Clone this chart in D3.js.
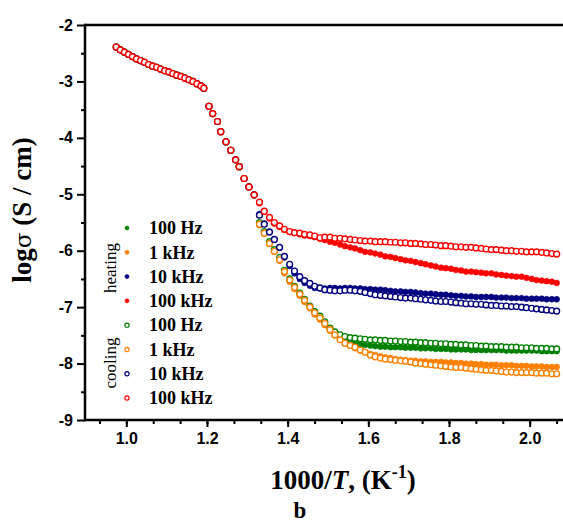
<!DOCTYPE html>
<html>
<head>
<meta charset="utf-8">
<script src="https://cdn.jsdelivr.net/npm/d3@7"></script>
<style>
  body { margin: 0; background: #fff; }
  svg { display: block; }
  .axis-title { font-family: "Liberation Serif", "Times New Roman", serif; font-weight: bold; fill: #000; }
  .legend-text { font-family: "Liberation Serif", "Times New Roman", serif; font-weight: bold; font-size: 18px; fill: #000; }
  .group-text { font-family: "Liberation Serif", "Times New Roman", serif; font-size: 17px; fill: #000; }
</style>
</head>
<body>
<div class="chart"></div>
<script>
// high temperature branch, all frequencies sit on top of each other here
var upperX = [0.975, 0.985, 0.995, 1.005, 1.015, 1.025, 1.035, 1.045, 1.055, 1.065, 1.075, 1.085,
  1.095, 1.105, 1.115, 1.125, 1.135, 1.145, 1.155, 1.165, 1.175, 1.185, 1.192,
  1.205, 1.214, 1.226, 1.234, 1.247, 1.259, 1.271, 1.280, 1.292, 1.304, 1.317];
var upperY = [-2.39, -2.44, -2.48, -2.52, -2.56, -2.60, -2.63, -2.66, -2.70, -2.73, -2.75, -2.78,
  -2.81, -2.83, -2.86, -2.89, -2.91, -2.94, -2.97, -3.00, -3.04, -3.08, -3.12,
  -3.44, -3.57, -3.71, -3.89, -4.07, -4.22, -4.39, -4.51, -4.72, -4.87, -5.01];

// low temperature part, where the frequencies split
var tailX = [1.330, 1.342, 1.355, 1.367, 1.380, 1.392, 1.405, 1.417, 1.430, 1.442,
  1.455, 1.467, 1.480, 1.492, 1.505, 1.517, 1.530, 1.542, 1.555, 1.567,
  1.580, 1.592, 1.605, 1.617, 1.630, 1.642, 1.655, 1.667, 1.680, 1.692,
  1.705, 1.717, 1.730, 1.742, 1.755, 1.767, 1.780, 1.792, 1.805, 1.817,
  1.830, 1.842, 1.855, 1.867, 1.880, 1.892, 1.905, 1.917, 1.930, 1.942,
  1.955, 1.967, 1.980, 1.992, 2.005, 2.017, 2.030, 2.042, 2.055, 2.067];

var heat100Hz = [-5.52, -5.68, -5.86, -6.00, -6.15, -6.38, -6.53, -6.66, -6.78, -6.89,
  -7.00, -7.10, -7.19, -7.29, -7.39, -7.47, -7.53, -7.58, -7.61, -7.64,
  -7.66, -7.67, -7.68, -7.69, -7.70, -7.70, -7.71, -7.71, -7.71, -7.72,
  -7.72, -7.72, -7.73, -7.73, -7.73, -7.74, -7.74, -7.74, -7.75, -7.75,
  -7.75, -7.75, -7.76, -7.76, -7.76, -7.76, -7.76, -7.76, -7.76, -7.77,
  -7.77, -7.77, -7.77, -7.77, -7.77, -7.77, -7.78, -7.78, -7.78, -7.78];
var heat1kHz = [-5.55, -5.70, -5.88, -6.02, -6.18, -6.40, -6.55, -6.68, -6.80, -6.91,
  -7.02, -7.13, -7.22, -7.32, -7.42, -7.50, -7.57, -7.63, -7.68, -7.73,
  -7.77, -7.80, -7.83, -7.85, -7.87, -7.89, -7.90, -7.92, -7.93, -7.94,
  -7.95, -7.95, -7.96, -7.96, -7.97, -7.97, -7.97, -7.98, -7.98, -7.99,
  -7.99, -8.00, -8.00, -8.01, -8.01, -8.02, -8.02, -8.02, -8.03, -8.03,
  -8.03, -8.04, -8.04, -8.04, -8.05, -8.05, -8.05, -8.06, -8.06, -8.06];
var heat10kHz = [-5.35, -5.52, -5.66, -5.80, -5.95, -6.12, -6.27, -6.40, -6.50, -6.57,
  -6.62, -6.66, -6.67, -6.67, -6.66, -6.66, -6.67, -6.66, -6.66, -6.67,
  -6.67, -6.68, -6.68, -6.69, -6.69, -6.70, -6.71, -6.72, -6.72, -6.73,
  -6.73, -6.74, -6.75, -6.76, -6.76, -6.77, -6.78, -6.78, -6.79, -6.80,
  -6.80, -6.81, -6.81, -6.82, -6.82, -6.82, -6.82, -6.83, -6.83, -6.83,
  -6.84, -6.84, -6.84, -6.85, -6.85, -6.85, -6.85, -6.86, -6.86, -6.86];
var heat100kHz = [-5.16, -5.31, -5.43, -5.52, -5.58, -5.63, -5.67, -5.69, -5.71, -5.73,
  -5.74, -5.76, -5.79, -5.81, -5.84, -5.86, -5.89, -5.92, -5.94, -5.96,
  -5.99, -6.02, -6.03, -6.05, -6.07, -6.10, -6.11, -6.13, -6.15, -6.17,
  -6.18, -6.20, -6.22, -6.24, -6.26, -6.28, -6.30, -6.31, -6.32, -6.34,
  -6.35, -6.37, -6.37, -6.38, -6.39, -6.40, -6.40, -6.42, -6.43, -6.44,
  -6.45, -6.46, -6.46, -6.48, -6.50, -6.52, -6.53, -6.54, -6.55, -6.57];
var cool100Hz = [-5.50, -5.66, -5.84, -5.98, -6.12, -6.35, -6.50, -6.63, -6.75, -6.86,
  -6.98, -7.08, -7.16, -7.26, -7.37, -7.44, -7.49, -7.52, -7.54, -7.55,
  -7.56, -7.57, -7.58, -7.58, -7.59, -7.59, -7.60, -7.60, -7.61, -7.61,
  -7.62, -7.62, -7.63, -7.63, -7.64, -7.64, -7.65, -7.65, -7.66, -7.66,
  -7.67, -7.67, -7.68, -7.68, -7.69, -7.69, -7.70, -7.70, -7.70, -7.71,
  -7.71, -7.71, -7.72, -7.72, -7.72, -7.73, -7.73, -7.73, -7.74, -7.74];
var cool1kHz = [-5.53, -5.69, -5.87, -6.01, -6.16, -6.37, -6.52, -6.65, -6.77, -6.88,
  -7.00, -7.10, -7.19, -7.29, -7.40, -7.49, -7.58, -7.64, -7.68, -7.71,
  -7.76, -7.80, -7.85, -7.88, -7.90, -7.92, -7.93, -7.94, -7.95, -7.96,
  -7.97, -7.99, -8.00, -8.01, -8.02, -8.03, -8.04, -8.05, -8.06, -8.07,
  -8.07, -8.08, -8.09, -8.10, -8.11, -8.12, -8.12, -8.13, -8.14, -8.15,
  -8.15, -8.16, -8.16, -8.16, -8.16, -8.17, -8.17, -8.17, -8.18, -8.18];
var cool10kHz = [-5.37, -5.53, -5.67, -5.80, -5.94, -6.10, -6.24, -6.36, -6.46, -6.53,
  -6.58, -6.63, -6.66, -6.69, -6.70, -6.71, -6.71, -6.70, -6.70, -6.71,
  -6.72, -6.74, -6.76, -6.78, -6.79, -6.80, -6.81, -6.82, -6.83, -6.84,
  -6.84, -6.85, -6.86, -6.87, -6.88, -6.89, -6.90, -6.90, -6.91, -6.92,
  -6.93, -6.94, -6.94, -6.95, -6.95, -6.96, -6.97, -6.97, -6.98, -6.98,
  -6.99, -6.99, -7.00, -7.01, -7.02, -7.03, -7.04, -7.05, -7.06, -7.07];
var cool100kHz = [-5.14, -5.30, -5.41, -5.50, -5.56, -5.62, -5.66, -5.68, -5.69, -5.71,
  -5.72, -5.74, -5.77, -5.76, -5.76, -5.78, -5.78, -5.79, -5.80, -5.81,
  -5.82, -5.83, -5.83, -5.84, -5.84, -5.84, -5.85, -5.85, -5.86, -5.86,
  -5.87, -5.87, -5.88, -5.89, -5.89, -5.90, -5.91, -5.91, -5.92, -5.93,
  -5.93, -5.94, -5.94, -5.95, -5.96, -5.97, -5.98, -5.98, -5.99, -6.00,
  -6.00, -6.01, -6.01, -6.02, -6.02, -6.02, -6.03, -6.04, -6.05, -6.06];

var freqLabels = ['100 Hz', '1 kHz', '10 kHz', '100 kHz'];
var freqColors = ['#008000', '#ff8000', '#000080', '#ff0000'];
var xTicks = [1.0, 1.2, 1.4, 1.6, 1.8, 2.0];
var yTicks = [-9, -8, -7, -6, -5, -4, -3, -2];

var width = 563;
var height = 523;
var LEFT = 85, TOP = 25, BOTTOM = 420;
var R = 2.9;

var series = [
  { label: freqLabels[0], color: freqColors[0], open: false, y: heat100Hz },
  { label: freqLabels[1], color: freqColors[1], open: false, y: heat1kHz },
  { label: freqLabels[2], color: freqColors[2], open: false, y: heat10kHz },
  { label: freqLabels[3], color: freqColors[3], open: false, y: heat100kHz },
  { label: freqLabels[0], color: freqColors[0], open: true, y: cool100Hz },
  { label: freqLabels[1], color: freqColors[1], open: true, y: cool1kHz },
  { label: freqLabels[2], color: freqColors[2], open: true, y: cool10kHz },
  { label: freqLabels[3], color: freqColors[3], open: true, y: cool100kHz }
];
series.forEach(function (s) {
  s.points = upperX.map(function (x, i) { return [x, upperY[i]]; })
    .concat(tailX.map(function (x, i) { return [x, s.y[i]]; }));
});

var x = d3.scaleLinear().domain([0.9, 2.1]).range([86, 570]);
var y = d3.scaleLinear().domain([-9, -2]).range([BOTTOM, TOP]);

var svg = d3.select('.chart').append('svg')
  .attr('width', width)
  .attr('height', height);

// points
series.forEach(function (s) {
  svg.append('g').selectAll('circle')
    .data(s.points)
    .enter().append('circle')
    .attr('cx', function (d) { return x(d[0]); })
    .attr('cy', function (d) { return y(d[1]); })
    .attr('r', R)
    .attr('fill', s.open ? '#fff' : s.color)
    .attr('stroke', s.color)
    .attr('stroke-width', s.open ? 1.4 : 0.6);
});

// x axis
var xMinor = d3.range(0.9 + 1 / 30, 2.1, 1 / 15);
svg.append('g')
  .attr('transform', 'translate(0,' + BOTTOM + ')')
  .call(d3.axisBottom(x).tickValues(xMinor).tickSize(4).tickFormat(''))
  .call(function (g) { g.select('.domain').remove(); });
svg.append('g')
  .attr('transform', 'translate(0,' + BOTTOM + ')')
  .call(d3.axisBottom(x).tickValues(xTicks).tickSize(7).tickPadding(6).tickFormat(d3.format('.1f')))
  .call(function (g) { g.select('.domain').remove(); });

// y axis
var yMinor = d3.range(-8.5, -2, 1);
svg.append('g')
  .attr('transform', 'translate(' + LEFT + ',0)')
  .call(d3.axisLeft(y).tickValues(yMinor).tickSize(4).tickFormat(''))
  .call(function (g) { g.select('.domain').remove(); });
svg.append('g')
  .attr('transform', 'translate(' + LEFT + ',0)')
  .call(d3.axisLeft(y).tickValues(yTicks).tickSize(8).tickPadding(4).tickFormat(function (d) { return String(d); }))
  .call(function (g) { g.select('.domain').remove(); });

svg.selectAll('.tick line').attr('stroke', '#000').attr('stroke-width', 2);
svg.selectAll('.tick text')
  .attr('fill', '#000')
  .style('font-family', '"Liberation Sans", Arial, sans-serif')
  .style('font-weight', 'bold')
  .style('font-size', '16px');

// frame lines
svg.append('line').attr('x1', LEFT).attr('x2', width).attr('y1', TOP).attr('y2', TOP)
  .attr('stroke', '#000').attr('stroke-width', 2.5);
svg.append('line').attr('x1', LEFT).attr('x2', width).attr('y1', BOTTOM).attr('y2', BOTTOM)
  .attr('stroke', '#000').attr('stroke-width', 2.5);
svg.append('line').attr('x1', LEFT).attr('x2', LEFT).attr('y1', TOP - 1.25).attr('y2', BOTTOM + 1.25)
  .attr('stroke', '#000').attr('stroke-width', 2.5);

// titles
var xt = svg.append('text')
  .attr('class', 'axis-title')
  .attr('x', 343).attr('y', 489)
  .attr('text-anchor', 'middle')
  .style('font-size', '27px');
xt.append('tspan').text('1000/');
xt.append('tspan').style('font-style', 'italic').text('T');
xt.append('tspan').text(', (K');
xt.append('tspan').attr('dy', -11).style('font-size', '18px').text('-1');
xt.append('tspan').attr('dy', 11).text(')');

var yt = svg.append('text')
  .attr('class', 'axis-title')
  .attr('transform', 'translate(31,210) rotate(-90)')
  .attr('text-anchor', 'middle')
  .style('font-size', '27px');
yt.append('tspan').text('log');
yt.append('tspan').style('font-family', '"DejaVu Serif", serif').style('font-weight', 'normal').style('font-size', '23px').text('σ');
yt.append('tspan').text(' (S / cm)');

svg.append('text')
  .attr('class', 'axis-title')
  .attr('x', 300).attr('y', 518)
  .attr('text-anchor', 'middle')
  .style('font-size', '23px')
  .text('b');

// legend
var legend = svg.append('g');
var rowY = d3.scaleLinear().domain([0, 7]).range([228, 398]);
series.forEach(function (s, i) {
  legend.append('circle')
    .attr('cx', 127).attr('cy', rowY(i))
    .attr('r', 2.1)
    .attr('fill', s.open ? '#fff' : s.color)
    .attr('stroke', s.color)
    .attr('stroke-width', s.open ? 1.2 : 0.5);
  legend.append('text')
    .attr('class', 'legend-text')
    .attr('x', 149).attr('y', rowY(i))
    .attr('dy', '0.35em')
    .text(s.label);
});
legend.append('text')
  .attr('class', 'group-text')
  .attr('transform', 'translate(110,268) rotate(-90)')
  .attr('text-anchor', 'middle')
  .attr('dy', '0.35em')
  .text('heating');
legend.append('text')
  .attr('class', 'group-text')
  .attr('transform', 'translate(110,363) rotate(-90)')
  .attr('text-anchor', 'middle')
  .attr('dy', '0.35em')
  .text('cooling');
</script>
</body>
</html>
